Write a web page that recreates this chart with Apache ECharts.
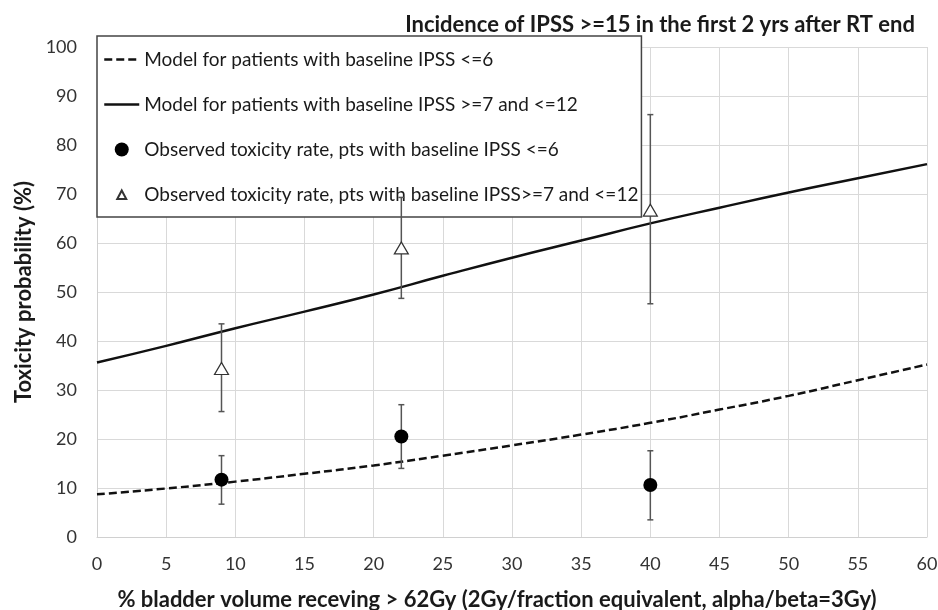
<!DOCTYPE html>
<html>
<head>
<meta charset="utf-8">
<script src="https://cdn.jsdelivr.net/npm/echarts@6/dist/echarts.min.js"></script>
<style>
html,body{margin:0;padding:0;background:#fff;overflow:hidden;}
#chart{width:938px;height:610px;}
</style>
</head>
<body>
<div id="chart"></div>
<script>
// ---- data ----
const titleText = 'Incidence of IPSS >=15 in the first 2 yrs after RT end';
const xAxisTitle = '% bladder volume receving > 62Gy (2Gy/fraction equivalent, alpha/beta=3Gy)';
const yAxisTitle = 'Toxicity probability (%)';
const seriesNames = [
  'Model for patients with baseline IPSS <=6',
  'Model for patients with baseline IPSS >=7 and <=12',
  'Observed toxicity rate, pts with baseline IPSS <=6',
  'Observed toxicity rate, pts with baseline IPSS>=7 and <=12'
];
const modelX = [0, 5, 10, 15, 20, 25, 30, 35, 40, 45, 50, 55, 60];
const modelLow = [8.7, 9.9, 11.3, 12.9, 14.6, 16.6, 18.7, 20.9, 23.3, 26.0, 28.8, 32.0, 35.2];
const modelMid = [35.6, 39.0, 42.6, 46.0, 49.5, 53.3, 57.0, 60.5, 64.0, 67.2, 70.3, 73.2, 76.1];
const obsX = [9, 22, 40];
const obsLow = [11.7, 20.5, 10.6];
const obsLowErrLo = [6.7, 14.0, 3.5];
const obsLowErrHi = [16.6, 27.0, 17.6];
const obsMid = [34.4, 59.0, 66.7];
const obsMidErrLo = [25.6, 48.7, 47.6];
const obsMidErrHi = [43.5, 69.3, 86.2];

const FONT = 'Lato';
const chart = echarts.init(document.getElementById('chart'), null, {renderer: 'canvas'});

function pairs(xs, ys) { return xs.map((x, i) => [x, ys[i]]); }
function errData(xs, lo, hi) { return xs.map((x, i) => [x, lo[i], hi[i]]); }

function errorBarRender(params, api) {
  const x = api.value(0);
  const lo = api.coord([x, api.value(1)]);
  const hi = api.coord([x, api.value(2)]);
  const cap = 3;
  const style = {stroke: '#555', lineWidth: 1.5, fill: null};
  return {
    type: 'group',
    children: [
      {type: 'line', shape: {x1: lo[0], y1: lo[1], x2: hi[0], y2: hi[1]}, style: style},
      {type: 'line', shape: {x1: lo[0] - cap, y1: lo[1], x2: lo[0] + cap, y2: lo[1]}, style: style},
      {type: 'line', shape: {x1: hi[0] - cap, y1: hi[1], x2: hi[0] + cap, y2: hi[1]}, style: style}
    ]
  };
}

const option = {
  backgroundColor: '#ffffff',
  animation: false,
  title: {
    text: titleText,
    right: 18,
    top: 9,
    textStyle: {fontFamily: FONT, fontSize: 22, fontWeight: 'bold', color: '#1a1a1a'}
  },
  grid: {left: 97, right: 11, top: 47, bottom: 73, containLabel: false, outerBoundsMode: 'none'},
  legend: {
    orient: 'vertical',
    left: 97,
    top: 36,
    padding: [14, 3, 13, 6],
    itemGap: 26,
    itemWidth: 35,
    itemHeight: 14,
    backgroundColor: '#ffffff',
    borderColor: '#444',
    borderWidth: 1.5,
    textStyle: {fontFamily: FONT, fontSize: 19, color: '#1a1a1a'},
    data: [
      {name: seriesNames[0], itemStyle: {opacity: 0}, lineStyle: {width: 2.5}},
      {name: seriesNames[1], itemStyle: {opacity: 0}, lineStyle: {width: 2.5}},
      {name: seriesNames[2]},
      {name: seriesNames[3], icon: 'path://M0,0 M35,14 M17.5,3 L22,11.5 L13,11.5 Z'}
    ]
  },
  xAxis: {
    type: 'value',
    min: 0, max: 60, interval: 5,
    name: xAxisTitle,
    nameLocation: 'middle',
    nameGap: 52,
    nameTextStyle: {fontFamily: FONT, fontSize: 22, fontWeight: 'bold', color: '#1a1a1a', padding: [0, 30, 0, 0]},
    axisLine: {show: true, lineStyle: {color: '#d0d0d0', width: 1}},
    axisTick: {show: false},
    axisLabel: {fontFamily: FONT, fontSize: 18, color: '#333', margin: 18},
    splitLine: {show: true, lineStyle: {color: '#d9d9d9', width: 1}}
  },
  yAxis: {
    type: 'value',
    min: 0, max: 100, interval: 10,
    name: yAxisTitle,
    nameLocation: 'middle',
    nameGap: 62,
    nameTextStyle: {fontFamily: FONT, fontSize: 22, fontWeight: 'bold', color: '#1a1a1a'},
    axisLine: {show: true, lineStyle: {color: '#d0d0d0', width: 1}},
    axisTick: {show: false},
    axisLabel: {fontFamily: FONT, fontSize: 18, color: '#333', margin: 20},
    splitLine: {show: true, lineStyle: {color: '#d9d9d9', width: 1}}
  },
  series: [
    {
      name: seriesNames[0], type: 'line', smooth: true, symbol: 'none',
      data: pairs(modelX, modelLow),
      lineStyle: {color: '#111', width: 2.5, type: [8, 4]},
      itemStyle: {color: '#111'}, z: 3
    },
    {
      name: seriesNames[1], type: 'line', smooth: true, symbol: 'none',
      data: pairs(modelX, modelMid),
      lineStyle: {color: '#111', width: 2.5, type: 'solid'},
      itemStyle: {color: '#111'}, z: 3
    },
    {
      name: 'errLow', type: 'custom', renderItem: errorBarRender,
      data: errData(obsX, obsLowErrLo, obsLowErrHi), z: 4, silent: true
    },
    {
      name: 'errMid', type: 'custom', renderItem: errorBarRender,
      data: errData(obsX, obsMidErrLo, obsMidErrHi), z: 4, silent: true
    },
    {
      name: seriesNames[2], type: 'scatter', symbol: 'circle', symbolSize: 14,
      data: pairs(obsX, obsLow),
      itemStyle: {color: '#000', opacity: 1}, z: 5
    },
    {
      name: seriesNames[3], type: 'scatter', symbol: 'triangle', symbolSize: [14, 12],
      data: pairs(obsX, obsMid),
      itemStyle: {color: '#fff', borderColor: '#333', borderWidth: 1.2, opacity: 1}, z: 5
    }
  ]
};
chart.setOption(option);
</script>
</body>
</html>
